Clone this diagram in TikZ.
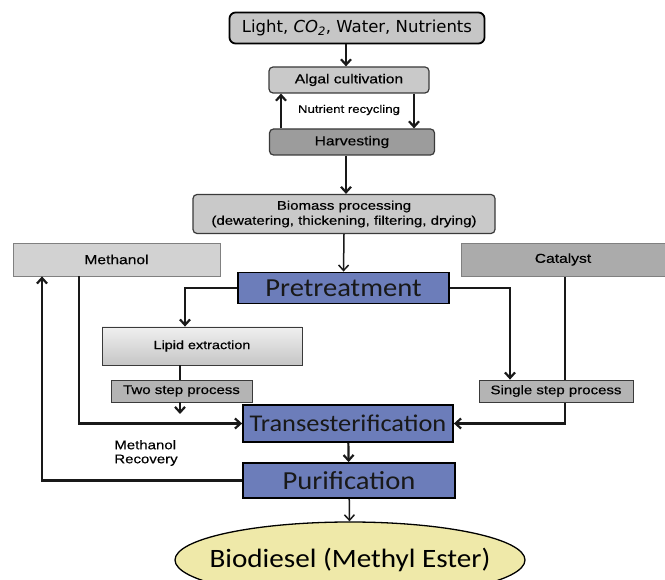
\documentclass[tikz,border=0pt]{standalone}
\usepackage{fontspec}
\setmainfont{Liberation Sans}[FakeStretch=1.2, FakeBold=0.4]
\newfontfamily\headfont{DejaVu Sans}
\newfontfamily\stagefont{Carlito}[FakeStretch=1.1]
\usetikzlibrary{arrows.meta, positioning, calc, backgrounds, shapes.geometric}
\definecolor{inputgray}{HTML}{C6C6C6}
\definecolor{boxgray}{HTML}{C9C9C9}
\definecolor{harvestgray}{HTML}{9C9C9C}
\definecolor{methanolgray}{HTML}{D2D2D2}
\definecolor{catalystgray}{HTML}{ABABAB}
\definecolor{stepgray}{HTML}{B4B4B4}
\definecolor{procblue}{HTML}{6C7DBA}
\definecolor{estergold}{HTML}{EFE9A9}
\definecolor{edgegray}{HTML}{3A3A3A}

\begin{document}
\begin{tikzpicture}[
    x=1pt, y=-1pt,
    >={Straight Barb[length=5.5pt, width=10pt]},
    greybox/.style={
        draw=edgegray, rounded corners=4pt, fill=boxgray, line width=1.2pt,
        inner sep=0pt, align=center, font=\fontsize{13}{15}\selectfont
    },
    inbox/.style={
        greybox, draw=black, fill=inputgray, line width=1.8pt,
        rounded corners=6pt, font=\headfont\fontsize{16.5}{18}\selectfont
    },
    sidebox/.style={
        draw=gray, fill=#1, line width=0.8pt, inner sep=0pt,
        align=center, font=\fontsize{13}{15}\selectfont
    },
    sidebox/.default={methanolgray},
    stepbox/.style={
        sidebox=stepgray, draw=edgegray, font=\fontsize{12.5}{14}\selectfont
    },
    bluebox/.style={
        draw=black, fill=procblue, line width=1.8pt, inner sep=0pt,
        text=black!90, font=\stagefont\fontsize{26}{28}\selectfont
    },
    product/.style={
        ellipse, draw=black, fill=estergold, line width=1.3pt,
        inner xsep=-20pt, inner ysep=0pt,
        font=\stagefont\fontsize{26.5}{28}\selectfont
    },
    note/.style={font=\fontsize{#1}{14}\selectfont, inner sep=0pt},
    note/.default={12.5},
    flow/.style={->, line width=2.2pt, color=black!90},
    link/.style={line width=2.2pt, color=black!90},
]

\useasboundingbox (0,0) rectangle (665,580);
\clip (0,0) rectangle (665,580);

% Cultivation stage
\node[inbox, minimum width=255, minimum height=31] (inputs) at (357,28)
    {Light, \textit{CO\textsubscript{2}}, Water, Nutrients};
\node[greybox, minimum width=160, minimum height=26] (cultivation) at (349,80)
    {Algal cultivation};
\node[greybox, fill=harvestgray, minimum width=165, minimum height=26] (harvest) at (352,142)
    {Harvesting};
\node[note=11] (recycling) at (349,110) {Nutrient recycling};
\node[greybox, minimum width=302, minimum height=39, font=\fontsize{12.5}{15}\selectfont] (biomass) at (344,214)
    {Biomass processing\\(dewatering, thickening, filtering, drying)};

% Conversion stage
\node[bluebox, minimum width=211, minimum height=31] (pretreat) at (343.5,288) {Pretreatment};
\node[sidebox, minimum width=207, minimum height=33] (methanol) at (116.5,259.5) {Methanol};
\node[sidebox=catalystgray, minimum width=204, minimum height=33] (catalyst) at (563,259.5) {Catalyst};
\node[sidebox, draw=edgegray, top color=gray!12, bottom color=gray!45,
      minimum width=200, minimum height=38, font=\fontsize{12}{14}\selectfont] (lipid) at (202,346)
    {Lipid extraction};
\node[stepbox, minimum width=141, minimum height=22] (twostep) at (181.5,391) {Two step process};
\node[stepbox, minimum width=154, minimum height=22] (onestep) at (556,391) {Single step process};
\node[bluebox, minimum width=210, minimum height=37, font=\stagefont\fontsize{24}{26}\selectfont] (transest) at (348,423.5)
    {Transesterification};
\node[bluebox, minimum width=212, minimum height=35] (purify) at (349,480.5) {Purification};
\node[product, minimum width=350, minimum height=76] (biodiesel) at (350,560)
    {Biodiesel (Methyl Ester)};
\node[note, align=left] (recovery) at (146,453) {Methanol\\Recovery};

% Guide coordinates for the vertical runs
\coordinate (spine) at (346,0);
\coordinate (recycle-up) at (281,0);
\coordinate (recycle-down) at (414,0);
\coordinate (lipid-in) at (185,0);
\coordinate (two-run) at (180,0);
\coordinate (two-end) at (180,414);
\coordinate (single-in) at (510,0);
\coordinate (methanol-run) at (79,0);
\coordinate (catalyst-run) at (565,0);
\coordinate (recovery-run) at (42,0);

% Edges
\draw[flow] (inputs.south -| spine) -- (cultivation.north -| spine);
\draw[flow] (harvest.north -| recycle-up) -- (cultivation.south -| recycle-up);
\draw[flow] (cultivation.south -| recycle-down) -- (harvest.north -| recycle-down);
\draw[flow] (harvest.south -| spine) -- (biomass.north -| spine);
\draw[flow, line width=1.5pt] (biomass.south) -- (pretreat.north);
\draw[flow] (pretreat.west) -| (lipid.north -| lipid-in);
\draw[link] (lipid.south -| two-run) -- (twostep.north -| two-run);
\draw[flow] (twostep.south -| two-run) -- (two-end);
\draw[flow] (methanol.south -| methanol-run) |- (transest.west);
\draw[flow] (pretreat.east) -| (onestep.north -| single-in);
\begin{scope}[on background layer]
    \draw[flow] (catalyst.south -| catalyst-run) |- (transest.east);
\end{scope}
\draw[flow] (transest) -- (purify);
\draw[flow] (purify.west) -| (methanol.south -| recovery-run);
\draw[flow, line width=1.5pt] (purify) -- (biodiesel);

\end{tikzpicture}
\end{document}
